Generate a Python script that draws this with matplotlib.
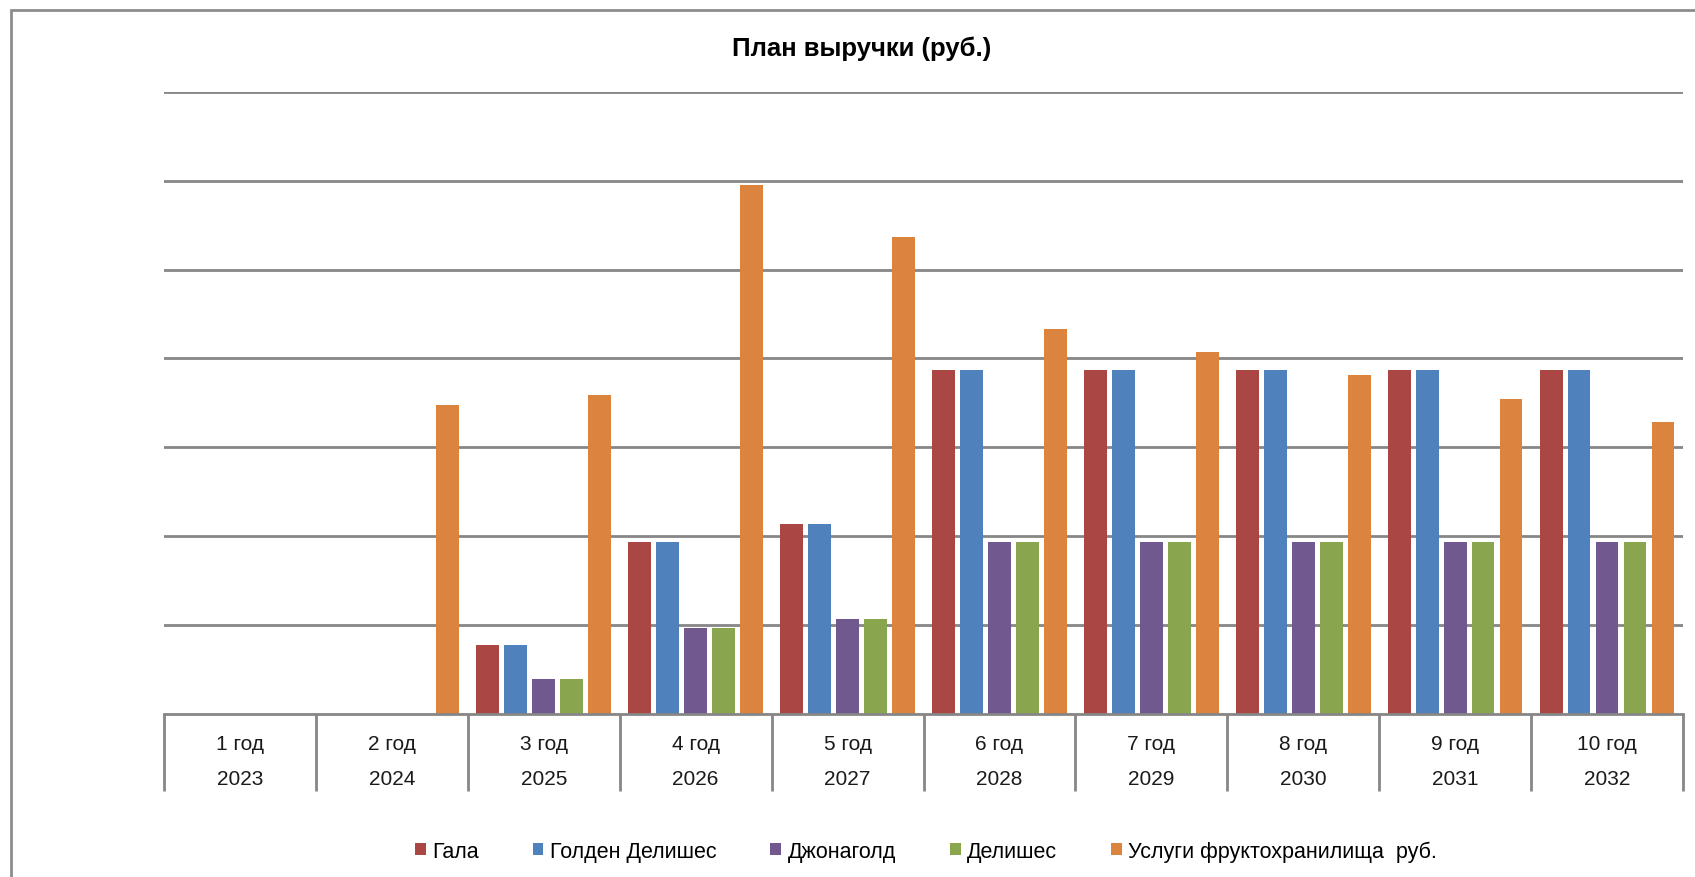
import matplotlib
matplotlib.use("Agg")
import matplotlib.pyplot as plt
from matplotlib.patches import Patch, Rectangle
import numpy as np

plt.rcParams['font.family'] = ['Liberation Sans', 'DejaVu Sans']

years_label = ["1 год", "2 год", "3 год", "4 год", "5 год",
               "6 год", "7 год", "8 год", "9 год", "10 год"]
years = ["2023", "2024", "2025", "2026", "2027",
         "2028", "2029", "2030", "2031", "2032"]

series_names = ["Гала", "Голден Делишес", "Джонаголд", "Делишес",
                "Услуги фруктохранилища  руб."]
gala = [0, 0, 0.77, 1.935, 2.14, 3.87, 3.87, 3.87, 3.87, 3.87]
golden = [0, 0, 0.77, 1.935, 2.14, 3.87, 3.87, 3.87, 3.87, 3.87]
jonagold = [0, 0, 0.385, 0.967, 1.07, 1.935, 1.935, 1.935, 1.935, 1.935]
delicious = [0, 0, 0.385, 0.967, 1.07, 1.935, 1.935, 1.935, 1.935, 1.935]
storage = [0, 3.48, 3.59, 5.95, 5.37, 4.33, 4.07, 3.81, 3.54, 3.28]

colors = ["#AA4644", "#4F81BD", "#71588F", "#89A54E", "#DB843D"]

W, H = 1695, 878
fig = plt.figure(figsize=(W / 100, H / 100), dpi=100)
fig.patch.set_facecolor("white")

# chart border
fig.patches.append(Rectangle((11 / W, -0.05), 1.2, 1 - 11 / H + 0.05,
                             transform=fig.transFigure, fill=False,
                             edgecolor="#8C8C8C", linewidth=2))

ax_left, ax_right = 164, 1683
ax_top, ax_bottom = 93, 714.6
ax = fig.add_axes([ax_left / W, (H - ax_bottom) / H,
                   (ax_right - ax_left) / W, (ax_bottom - ax_top) / H])
ax.set_xlim(0, 10)
ax.set_ylim(0, 7)
for s in ax.spines.values():
    s.set_visible(False)
ax.set_yticks(range(1, 8))
ax.set_yticklabels([])
ax.set_xticks([])
ax.tick_params(left=False, bottom=False)
ax.yaxis.grid(True, color="#868686", linewidth=2)
ax.set_axisbelow(True)

data = [gala, golden, jonagold, delicious, storage]
x = np.arange(len(years)) + 0.5
pitch = 0.184
bw = 0.15
for i, (vals, c, name) in enumerate(zip(data, colors, series_names)):
    ax.bar(x + (i - 2) * pitch, vals, width=bw, color=c, label=name,
           edgecolor="none", zorder=3)

ax.axhline(0, color="#868686", linewidth=2, zorder=4, clip_on=False)

axh = ax_bottom - ax_top
trans = ax.get_xaxis_transform()
ax.vlines(np.arange(0, 11), -(792 - ax_bottom) / axh, 0, transform=trans,
          colors="#868686", linewidth=2, clip_on=False)
for xi, lab, yr in zip(x, years_label, years):
    ax.text(xi, -(745 - ax_bottom) / axh, lab, transform=trans,
            ha="center", va="center", fontsize=15, color="#1a1a1a")
    ax.text(xi, -(780 - ax_bottom) / axh, yr, transform=trans,
            ha="center", va="center", fontsize=15, color="#1a1a1a")

fig.text(862 / W, 1 - 49 / H, "План выручки (руб.)", ha="center",
         va="center", fontsize=18.5, fontweight="bold", color="black")

handles = [Patch(facecolor=c, edgecolor="none") for c in colors]
fig.legend(handles, series_names, loc="center", ncol=5,
           bbox_to_anchor=(926 / W, 1 - 852 / H), frameon=False,
           fontsize=15.5, handlelength=0.5, handleheight=0.5,
           handletextpad=0.3, columnspacing=2.5)

fig.savefig("out.png", dpi=100, facecolor="white")
